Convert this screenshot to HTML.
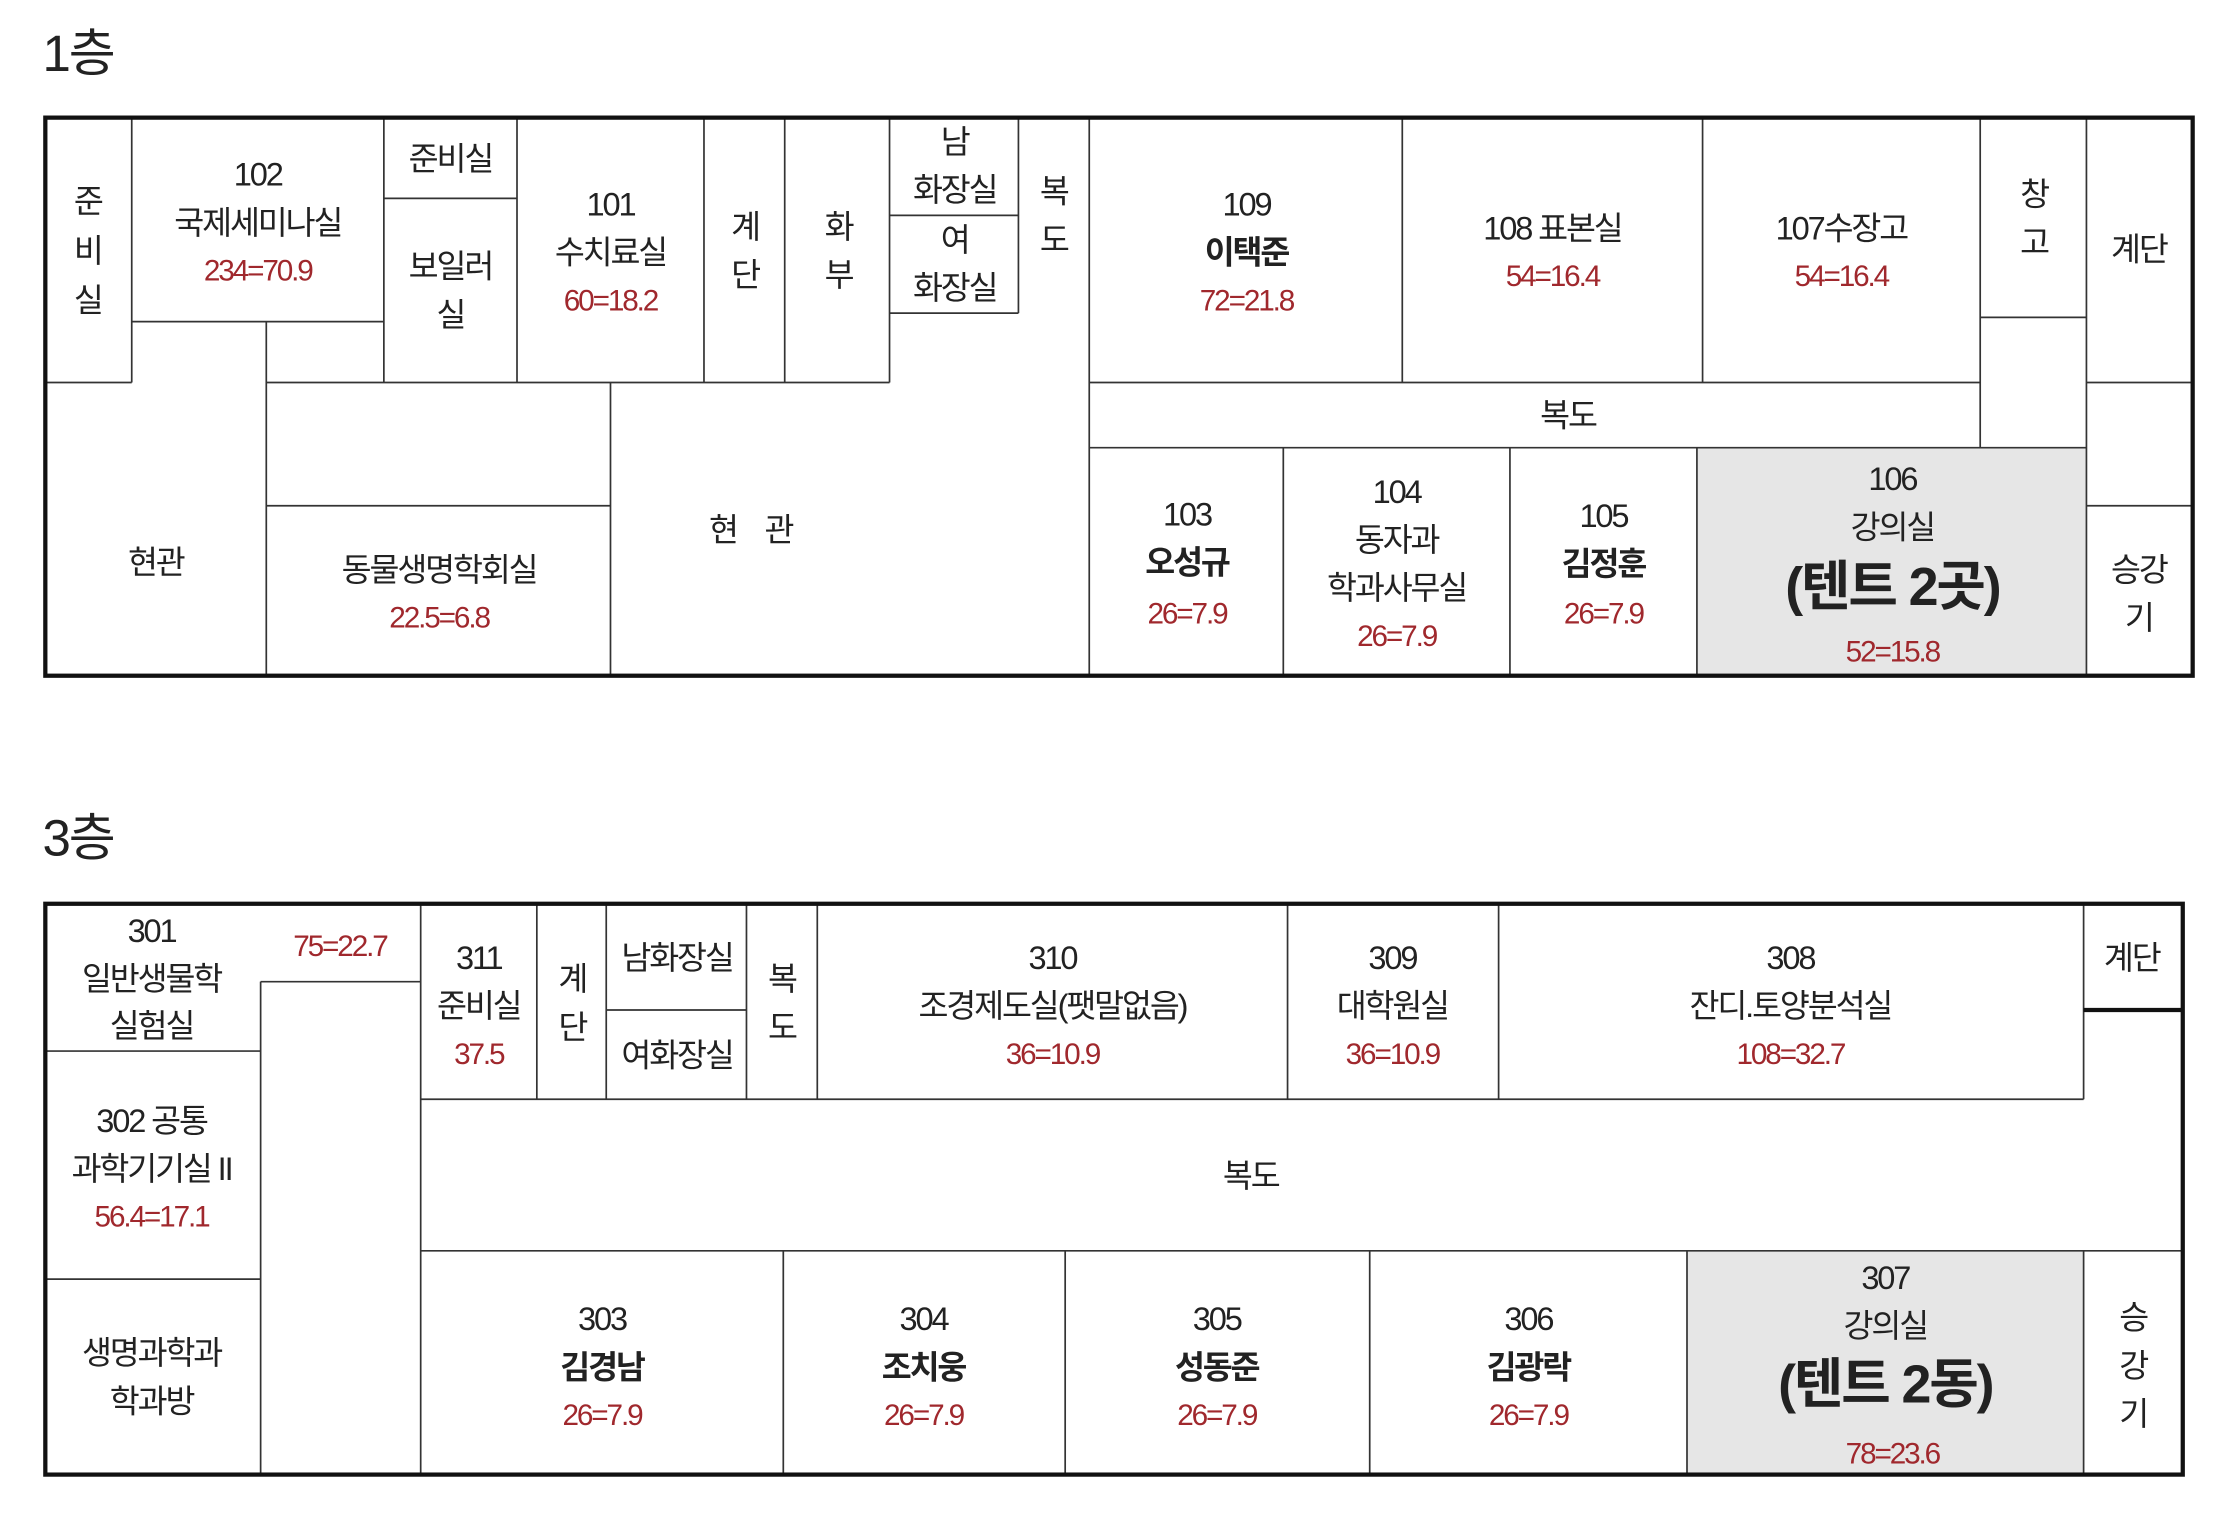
<!DOCTYPE html>
<html><head><meta charset="utf-8"><style>
html,body{margin:0;padding:0;background:#fff;}
svg{display:block}
text{font-family:"Liberation Sans","Noto Sans CJK KR","NanumGothic",sans-serif;fill:#222;text-anchor:middle;font-size:23px;letter-spacing:-1.5px}
.r{fill:#a0282d;font-size:21px}
.b{font-weight:bold}
.t{font-size:36px;text-anchor:start}
.tent{font-size:38px;font-weight:bold}
.l{stroke:#333;stroke-width:1.2;fill:none}
.o{stroke:#111;stroke-width:3;fill:none}
</style></head><body>
<svg width="2221" height="1520" viewBox="0 0 1568 1073">
<g>
<text class="t" x="30" y="50">1층</text>
<rect x="1198" y="316" width="275" height="161" fill="#e6e6e6"/>
<path class="l" d="M93 83V270M32 270H93M93 227H271M188 227V477M271 83V270M271 140H365M365 83V270M497 83V270M554 83V270M628 83V270M188 270H628M628 152H719M628 221H719M719 83V221M188 357H431M431 270V477M769 83V477M990 83V270M1202 83V270M1398 83V316M769 270H1398M769 316H1473M1398 224H1473M1473 83V477M1473 270H1548M1473 357H1548M906 316V477M1066 316V477M1198 316V477"/>
<rect class="o" x="32" y="83" width="1516" height="394"/>
<text x="62" y="150">준</text><text x="62" y="185">비</text><text x="62" y="220">실</text>
<text x="182" y="131">102</text><text x="182" y="165">국제세미나실</text><text class="r" x="182" y="198">234=70.9</text>
<text x="318" y="120">준비실</text>
<text x="318" y="196">보일러</text><text x="318" y="230">실</text>
<text x="431" y="152">101</text><text x="431" y="186">수치료실</text><text class="r" x="431" y="219">60=18.2</text>
<text x="526" y="168">계</text><text x="526" y="202">단</text>
<text x="592" y="168">화</text><text x="592" y="202">부</text>
<text x="674" y="108">남</text><text x="674" y="142">화장실</text>
<text x="674" y="177">여</text><text x="674" y="211">화장실</text>
<text x="744" y="143">복</text><text x="744" y="177">도</text>
<text x="880" y="152">109</text><text class="b" x="880" y="186">이택준</text><text class="r" x="880" y="219">72=21.8</text>
<text x="1096" y="169">108  표본실</text><text class="r" x="1096" y="202">54=16.4</text>
<text x="1300" y="169">107수장고</text><text class="r" x="1300" y="202">54=16.4</text>
<text x="1436" y="145">창</text><text x="1436" y="179">고</text>
<text x="1510" y="184">계단</text>
<text x="1107" y="301" font-size="20">복도</text>
<text x="110" y="405">현관</text>
<text x="310" y="410">동물생명학회실</text><text class="r" x="310" y="443">22.5=6.8</text>
<text x="530" y="382" xml:space="preserve">현    관</text>
<text x="838" y="371">103</text><text class="b" x="838" y="405">오성규</text><text class="r" x="838" y="440">26=7.9</text>
<text x="986" y="355">104</text><text x="986" y="389">동자과</text><text x="986" y="423">학과사무실</text><text class="r" x="986" y="456">26=7.9</text>
<text x="1132" y="372">105</text><text class="b" x="1132" y="406">김정훈</text><text class="r" x="1132" y="440">26=7.9</text>
<text x="1336" y="346">106</text><text x="1336" y="380">강의실</text><text class="tent" x="1336" y="427">(텐트  2곳)</text><text class="r" x="1336" y="467">52=15.8</text>
<text x="1510" y="410">승강</text><text x="1510" y="444">기</text>
</g>
<g>
<text class="t" x="30" y="604">3층</text>
<rect x="1191" y="883" width="280" height="158" fill="#e6e6e6"/>
<path class="l" d="M32 742H184M184 693V1041M184 693H297M32 903H184M297 638V1041M379 638V776M428 638V776M428 713H527M527 638V776M577 638V776M909 638V776M1058 638V776M297 776H1471M1471 638V776M297 883H1541M553 883V1041M752 883V1041M967 883V1041M1191 883V1041M1471 883V1041"/>
<path d="M1471 713H1541" stroke="#111" stroke-width="3"/>
<rect class="o" x="32" y="638" width="1509" height="403"/>
<text x="107" y="665">301</text><text x="107" y="699">일반생물학</text><text x="107" y="732">실험실</text>
<text class="r" x="240" y="675">75=22.7</text>
<text x="107" y="799">302  공통</text><text x="107" y="833">과학기기실 II</text><text class="r" x="107" y="866">56.4=17.1</text>
<text x="107" y="963">생명과학과</text><text x="107" y="997">학과방</text>
<text x="338" y="684">311</text><text x="338" y="718">준비실</text><text class="r" x="338" y="751">37.5</text>
<text x="404" y="699">계</text><text x="404" y="733">단</text>
<text x="478" y="684">남화장실</text><text x="478" y="753">여화장실</text>
<text x="552" y="699">복</text><text x="552" y="733">도</text>
<text x="743" y="684">310</text><text x="743" y="718">조경제도실(팻말없음)</text><text class="r" x="743" y="751">36=10.9</text>
<text x="983" y="684">309</text><text x="983" y="718">대학원실</text><text class="r" x="983" y="751">36=10.9</text>
<text x="1264" y="684">308</text><text x="1264" y="718">잔디.토양분석실</text><text class="r" x="1264" y="751">108=32.7</text>
<text x="1505" y="684">계단</text>
<text x="883" y="838">복도</text>
<text x="425" y="939">303</text><text class="b" x="425" y="973">김경남</text><text class="r" x="425" y="1006">26=7.9</text>
<text x="652" y="939">304</text><text class="b" x="652" y="973">조치웅</text><text class="r" x="652" y="1006">26=7.9</text>
<text x="859" y="939">305</text><text class="b" x="859" y="973">성동준</text><text class="r" x="859" y="1006">26=7.9</text>
<text x="1079" y="939">306</text><text class="b" x="1079" y="973">김광락</text><text class="r" x="1079" y="1006">26=7.9</text>
<text x="1331" y="910">307</text><text x="1331" y="944">강의실</text><text class="tent" x="1331" y="990">(텐트  2동)</text><text class="r" x="1336" y="1033">78=23.6</text>
<text x="1506" y="938">승</text><text x="1506" y="972">강</text><text x="1506" y="1006">기</text>
</g>
</svg>
</body></html>
